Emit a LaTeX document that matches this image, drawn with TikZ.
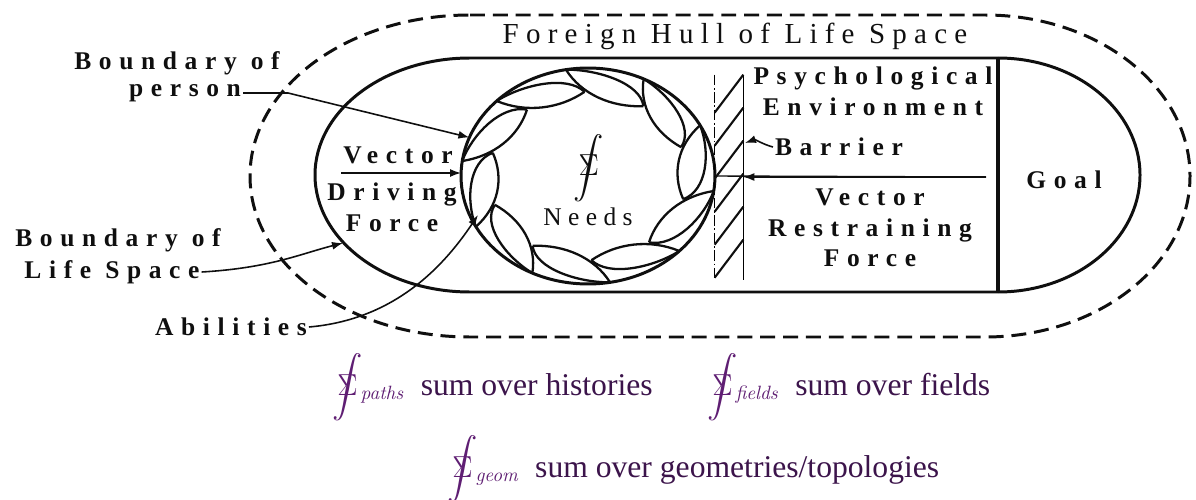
\documentclass[tikz,border=0pt]{standalone}
\usepackage[no-math]{fontspec}
\usepackage{exscale}
\setmainfont{Liberation Serif}
\newfontfamily\lblfont[LetterSpace=30]{Liberation Serif}
\newfontfamily\hullfont[LetterSpace=25]{Liberation Serif}
\usetikzlibrary{shapes.geometric, arrows.meta, positioning, calc}
\definecolor{inkcolor}{RGB}{15,15,15}
\definecolor{sumcolor}{RGB}{60,20,75}
\definecolor{intcolor}{RGB}{95,30,115}
\tikzset{
    lbl/.style={font=\lblfont\bfseries\fontsize{14.5}{17.5}\selectfont, align=center, inner sep=1pt, text=inkcolor},
    hulltext/.style={font=\hullfont\fontsize{16.5}{19}\selectfont, inner sep=1pt, text=inkcolor},
    sumtext/.style={font=\fontsize{18}{22}\selectfont, text=sumcolor, anchor=base west, inner sep=0pt},
    boundary/.style={line width=1.7pt, draw=inkcolor},
    hull/.style={line width=1.7pt, draw=inkcolor, dash pattern=on 8.5pt off 4.5pt},
    petal/.style={line width=1.3pt, draw=inkcolor},
    leader/.style={line width=0.8pt, draw=inkcolor},
    arrow/.style={-{Latex[length=2.2mm, width=1.6mm]}, line width=0.9pt, draw=inkcolor},
    hatch/.style={line width=1.2pt, draw=inkcolor}
}
\newcommand{\sumint}[1]{{\fontsize{16}{18}\selectfont$\mathop{\hbox{\ooalign{$\displaystyle\int$\cr\hfil$\textstyle\Sigma$\hfil\cr}}}\nolimits_{\mkern-2mu\mathit{#1}}$}}
% point on the person ellipse: angle, radius factor
\newcommand{\pp}[2]{({588+127*#2*cos(#1)},{-176+108*#2*sin(#1)})}

\begin{document}
\begin{tikzpicture}[x=0.02cm, y=0.02cm]

    \useasboundingbox (0,0) rectangle (1196,-500);
    \fill[white] (0,0) rectangle (1196,-500);

    % foreign hull (dashed) and boundary of life space
    \draw[hull] (470,-15) -- (985,-15) arc[start angle=90, end angle=-90, x radius=205, y radius=161]
        -- (470,-337) arc[start angle=270, end angle=90, x radius=220, y radius=161] -- cycle;
    \draw[boundary] (998,-58) -- (470,-58) arc[start angle=90, end angle=270, x radius=155, y radius=117]
        -- (998,-292);
    \draw[line width=2.4pt, draw=inkcolor] (998,-58) -- (998,-292);
    \draw[boundary] (998,-58) arc[start angle=90, end angle=-90, x radius=142, y radius=117];

    % person with abilities
    \node[ellipse, boundary, minimum width=5.08cm, minimum height=4.32cm, inner sep=0pt, outer sep=0pt] (person) at (588,-176) {};
    \foreach \a in {100,64,...,-224} {
        \draw[petal] \pp{\a}{1} .. controls \pp{\a-15}{0.99} and \pp{\a-36}{0.95} .. \pp{\a-44}{0.78};
        \draw[petal] \pp{\a}{1} .. controls \pp{\a-6}{0.76} and \pp{\a-26}{0.66} .. \pp{\a-44}{0.78};
    }
    \node[text=inkcolor, inner sep=0pt] (needsint) at (588,-157) {\sumint{}};
    \node[hulltext, font=\hullfont\fontsize{14.5}{17}\selectfont] (needs) at (588,-217) {Needs};

    % barrier
    \node[minimum width=0.56cm, minimum height=4.1cm, inner sep=0pt] (barrier) at (729,-177.5) {};
    \draw[line width=0.6pt, dash pattern=on 6pt off 1.5pt on 1pt off 1.5pt] (barrier.north west) -- (barrier.south west);
    \draw[line width=0.7pt] (barrier.north east) -- (barrier.south east);
    \foreach \y in {0,33,...,165}
        \draw[hatch] ($(barrier.north east)+(0,-\y)$) -- ($(barrier.north west)+(0,-\y-38)$);

    % labels
    \node[hulltext] (hulllbl) at (735,-36) {Foreign Hull of Life Space};
    \node[lbl] (bpA) at (177,-63) {Boundary of};
    \node[lbl] (bperson) at (185,-93) {person};
    \node[lbl] (vdrive) at (398,-155) {Vector};
    \node[lbl] (dforce) at (392,-207) {Driving\\Force};
    \node[lbl] (blA) at (118,-240) {Boundary of};
    \node[lbl] (blife) at (112,-272) {Life Space};
    \node[lbl] (abil) at (231,-327) {Abilities};
    \node[lbl] (psych) at (873,-91) {Psychological\\Environment};
    \node[lbl] (barlbl) at (839,-147) {Barrier};
    \node[lbl] (vrestr) at (870,-228) {Vector\\Restraining\\Force};
    \node[lbl] (goal) at (1064,-180) {Goal};

    % bottom sums
    \node[sumtext] (sumpaths) at (332,-395) {\textcolor{intcolor}{\sumint{paths}}\hspace{0.3cm}sum over histories};
    \node[sumtext] (sumfields) at (707,-395) {\textcolor{intcolor}{\sumint{fields}}\hspace{0.3cm}sum over fields};
    \node[sumtext] (sumgeom) at (447,-477) {\textcolor{intcolor}{\sumint{geom}}\hspace{0.3cm}sum over geometries/topologies};

    % connectors
    \coordinate (drive0) at (341,-173);
    \coordinate (restr0) at (986,-177);
    \coordinate (lifeedge) at (343,-243);
    \coordinate (abiltip) at (478,-215);
    \coordinate (bartip) at (745,-143);
    \draw[arrow] (drive0) -- (drive0 -| person.west);
    \draw[leader] (restr0) -- (person.east);
    \draw[arrow] (restr0) -- (restr0 -| barrier.east);
    \draw[arrow] (bperson.east) -- ++(45,0) -- (person.162);
    \draw[arrow] (blife.east) .. controls (270,-268) and (300,-254) .. (lifeedge);
    \draw[arrow] (abil.east) .. controls (390,-320) and (440,-272) .. (abiltip);
    \draw[arrow] (barlbl.west) to[out=165, in=20] (bartip);

\end{tikzpicture}
\end{document}
